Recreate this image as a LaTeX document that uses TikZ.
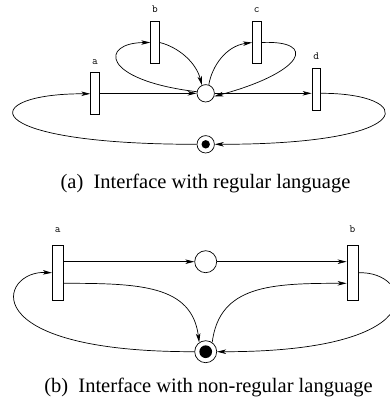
\documentclass[tikz,border=0pt]{standalone}
\usepackage{fontspec}
\setmainfont{Liberation Serif}
\usetikzlibrary{arrows.meta,calc}

\tikzset{
  arc/.style={draw, line width=0.7pt, -{Stealth[length=9pt,width=4.5pt,inset=2.5pt]}},
  trans/.style={draw, line width=0.7pt, rectangle, inner sep=0pt, fill=white},
  transA/.style={trans, minimum width=8.7pt, minimum height=42pt},
  transB/.style={trans, minimum width=11pt, minimum height=55.7pt},
  place/.style={draw, line width=0.7pt, circle, inner sep=0pt, fill=white},
  token/.style={circle, fill=black, inner sep=0pt},
  tlabel/.style={font=\ttfamily\fontsize{11}{11}\selectfont, anchor=base, inner sep=0pt},
  caption/.style={font=\fontsize{20.5}{22}\selectfont, anchor=base, inner sep=0pt}
}

\begin{document}
\begin{tikzpicture}[x=1pt,y=-1pt]
\useasboundingbox (0,0) rectangle (390,402);

% ---- (a) net with a regular language ----
\node[place, minimum size=17.4pt] (p1) at (205.7,93.3) {};
\node[place, minimum size=17.4pt] (m1) at (205.7,144.3) {};
\node[token, minimum size=8.4pt] (k1) at (m1) {};
\node[transA] (ta) at (95,93.8) {};
\node[transA] (tb) at (155,42.5) {};
\node[transA] (tc) at (256.7,42.5) {};
\node[transA] (td) at (316.3,89.2) {};

\node[tlabel] (la) at (95,64.3) {a};
\node[tlabel] (lb) at (155,12.7) {b};
\node[tlabel] (lc) at (256.7,12.7) {c};
\node[tlabel] (ld) at (316.3,59.3) {d};

\path[arc] (ta.east |- p1) -- (p1.west);
\path[arc] (p1.east) -- (p1 -| td.west);
\path[arc] (p1.170) .. controls (100,80) and (100,42.7) .. (tb.west);
\path[arc] (tb.east) .. controls (178,47) and (196,62) .. (p1.115);
\path[arc] (p1.70) .. controls (212,66) and (226,46) .. (tc.west);
\path[arc] (tc.east) .. controls (318,40) and (305,72) .. (p1.-20);
\path[arc] (p1 -| td.east) .. controls (415,93) and (425,144.3) .. (m1.east);
\path[arc] (m1.west) .. controls (-28,144.3) and (-23,93.3) .. (ta.west);

\node[caption] (capa) at (205.5,188) {(a)\ \ Interface with regular language};

% ---- (b) net with a non-regular language ----
\node[place, minimum size=22pt] (p2) at (205.7,261.7) {};
\node[place, minimum size=22pt] (m2) at (205.7,351.7) {};
\node[token, minimum size=12.7pt] (k2) at (m2) {};
\node[transB] (ua) at (57.8,272.8) {};
\node[transB] (ub) at (352.5,272.8) {};

\node[tlabel] (lua) at (57.8,232.3) {a};
\node[tlabel] (lub) at (352.5,232.3) {b};

\path[arc] (p2 -| ua.east) -- (p2.west);
\path[arc] (p2.east) -- (p2 -| ub.west);
\path[arc] ($(ua.east)+(0,10.5)$) .. controls (140,283.3) and (192,285) .. (m2.125);
\path[arc] (m2.55) .. controls (219.4,285) and (271.4,283.3) .. ($(ub.west)+(0,10.5)$);
\path[arc] (m2.west) .. controls (-30,352) and (0,270) .. (ua.west);
\path[arc] (ub.east) .. controls (411.4,270) and (441.4,352) .. (m2.east);

\node[caption] (capb) at (208.5,392) {(b)\ \ Interface with non-regular language};
\end{tikzpicture}
\end{document}
